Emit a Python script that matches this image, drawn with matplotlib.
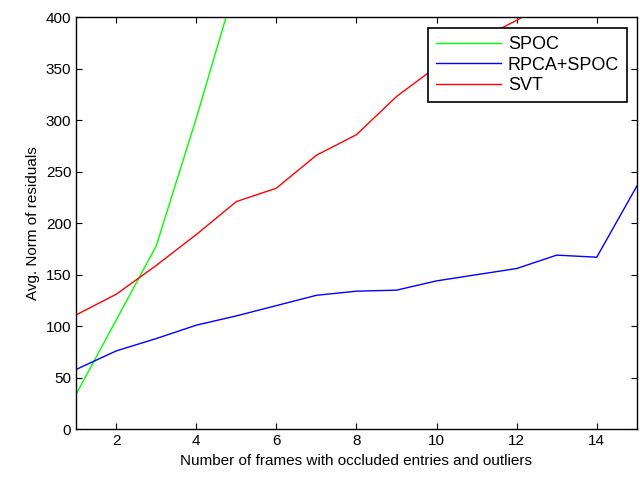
import numpy as np
import matplotlib
matplotlib.use('Agg')
import matplotlib.pyplot as plt

plt.rcParams['font.family'] = ['Liberation Sans', 'DejaVu Sans']

# values
frames = [1, 2, 3, 4, 5, 6, 7, 8, 9, 10, 11, 12, 13, 14, 15]
spoc_frames = [1, 2, 3, 4, 5]
spoc = [34, 106, 178, 302, 434]
rpca_spoc = [58, 76, 88, 101, 110, 120, 130, 134, 135, 144, 150, 156, 169, 167, 236]
svt = [111, 131, 159, 189, 221, 234, 266, 286, 323, 352, 377, 397, 420, 445, 470]

fig = plt.figure(figsize=(6.4, 4.79), dpi=100)
ax = fig.add_axes([0.119, 0.104, 0.876, 0.860])

ax.plot(spoc_frames, spoc, color='#00ff00', lw=1, label='SPOC')
ax.plot(frames, rpca_spoc, color='#0000ff', lw=1, label='RPCA+SPOC')
ax.plot(frames, svt, color='#ff0000', lw=1, label='SVT')

ax.set_xlim(1, 15)
ax.set_ylim(0, 400)
ax.set_xticks(range(2, 15, 2))
ax.set_yticks(range(0, 401, 50))
ax.tick_params(direction='in', top=True, right=True, labelsize=11, length=4, width=0.8)
for s in ax.spines.values():
    s.set_linewidth(1)

ax.set_xlabel('Number of frames with occluded entries and outliers', fontsize=11)
ax.set_ylabel('Avg. Norm of residuals', fontsize=11)

leg = ax.legend(loc='upper right', bbox_to_anchor=(0.983, 0.974), fontsize=13,
                fancybox=False, edgecolor='black', framealpha=1,
                handlelength=3.6, handletextpad=0.4, borderpad=0.45,
                borderaxespad=0, labelspacing=0.2)
leg.get_frame().set_linewidth(1.2)

fig.savefig('out.png', dpi=100)
